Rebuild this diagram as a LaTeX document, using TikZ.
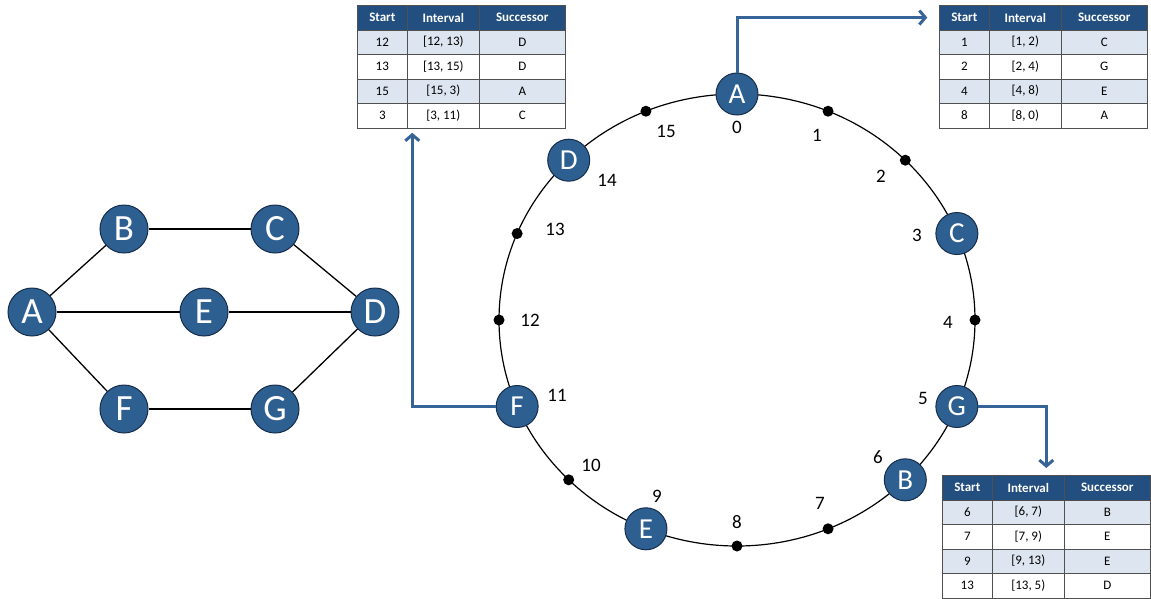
\documentclass[tikz,border=0pt]{standalone}
\usepackage{fontspec}
\setmainfont{Carlito}
\usepackage{tikz}
\usetikzlibrary{arrows.meta, positioning, matrix}
\definecolor{PeerBlue}{RGB}{46, 95, 145}
\definecolor{PeerEdge}{RGB}{22, 45, 75}
\definecolor{HeadBlue}{RGB}{34, 78, 128}
\definecolor{RowTint}{RGB}{221, 229, 240}
\definecolor{GridGray}{RGB}{80, 80, 80}
\definecolor{PtrBlue}{RGB}{55, 100, 152}
\tikzset{
  peer/.style={circle, draw=PeerEdge, fill=PeerBlue, line width=1pt,
               minimum size=48pt, inner sep=0pt, text=white,
               font=\fontsize{37}{37}\selectfont},
  ringpeer/.style={peer, minimum size=42pt, font=\fontsize{29}{29}\selectfont},
  slot/.style={circle, fill=black, minimum size=11pt, inner sep=0pt},
  slotnum/.style={inner sep=0pt, font=\fontsize{19}{19}\selectfont},
  link/.style={line width=1.3pt, black},
  ptr/.style={-{Straight Barb[length=6pt, width=14pt]}, line width=3pt, color=PtrBlue},
  fingertab/.style={matrix of nodes, anchor=north west,
                    inner sep=0pt, outer sep=0pt,
                    column sep=-0.6pt, row sep=-0.6pt,
                    nodes={draw=GridGray, line width=0.6pt, inner sep=0pt,
                           minimum height=24.5pt, anchor=center,
                           font=\fontsize{13}{13}\selectfont},
                    column 1/.style={nodes={minimum width=50pt}},
                    column 2/.style={nodes={minimum width=72pt}},
                    column 3/.style={nodes={minimum width=86pt}},
                    row 1/.style={nodes={fill=HeadBlue, text=white,
                                         font=\fontsize{13}{13}\selectfont\bfseries}},
                    row 2/.style={nodes={fill=RowTint}},
                    row 4/.style={nodes={fill=RowTint}}},
}

\begin{document}
\begin{tikzpicture}[x=1pt, y=-1pt]
  \useasboundingbox (0,0) rectangle (1151,598);

  % overlay graph
  \node[peer] (gA) at (32,312) {A};
  \node[peer, right=123pt of gA] (gE) {E};
  \node[peer, right=122pt of gE] (gD) {D};
  \node[peer, above=34pt of gA, xshift=92pt] (gB) {B};
  \node[peer, right=102pt of gB] (gC) {C};
  \node[peer, below=48pt of gA, xshift=92pt] (gF) {F};
  \node[peer, right=102pt of gF] (gG) {G};

  \draw[link] (gA) -- (gB);
  \draw[link] (gB) -- (gC);
  \draw[link] (gC) -- (gD);
  \draw[link] (gA) -- (gE);
  \draw[link] (gE) -- (gD);
  \draw[link] (gA) -- (gF);
  \draw[link] (gF) -- (gG);
  \draw[link] (gG) -- (gD);

  % identifier ring
  \coordinate (ctr) at (737,320);
  \draw[line width=1.2pt] (ctr) ellipse [x radius=238pt, y radius=226pt];
  \foreach \k in {0,...,15} {
    \pgfmathsetmacro\ang{90-22.5*\k}
    \path (ctr) ++({238*cos(\ang)},{-226*sin(\ang)}) coordinate (p\k);
  }
  \foreach \k in {1,2,4,7,8,10,12,13,15}
    \node[slot] (s\k) at (p\k) {};
  \foreach \k/\n in {0/A,3/C,5/G,6/B,9/E,11/F,14/D}
    \node[ringpeer] (r\n) at (p\k) {\n};
  \foreach \k/\lx/\ly in {0/737/127, 1/817/135, 2/881/176, 3/917/235,
                          4/948/322, 5/923/398, 6/878/457, 7/820/503,
                          8/737/522, 9/657/496, 10/591/465, 11/557/395,
                          12/530/320, 13/555/229, 14/607/180, 15/666/131}
    \node[slotnum] (n\k) at (\lx,\ly) {\k};

  % finger tables
  \matrix (ftD) [fingertab] at (357,5) {
    Start & Interval & Successor \\
    12 & {[12, 13)} & D \\
    13 & {[13, 15)} & D \\
    15 & {[15, 3)} & A \\
    3 & {[3, 11)} & C \\
  };
  \matrix (ftA) [fingertab] at (939,5) {
    Start & Interval & Successor \\
    1 & {[1, 2)} & C \\
    2 & {[2, 4)} & G \\
    4 & {[4, 8)} & E \\
    8 & {[8, 0)} & A \\
  };
  \matrix (ftG) [fingertab] at (942,475) {
    Start & Interval & Successor \\
    6 & {[6, 7)} & B \\
    7 & {[7, 9)} & E \\
    9 & {[9, 13)} & E \\
    13 & {[13, 5)} & D \\
  };

  \draw[ptr, shorten >=12pt] (rA) |- (ftA-1-1.west);
  \draw[ptr, shorten >=5pt] (rF) -| ([xshift=5pt]ftD-5-1.south east);
  \draw[ptr, shorten >=7pt] (rG) -| (ftG.north);
\end{tikzpicture}
\end{document}
